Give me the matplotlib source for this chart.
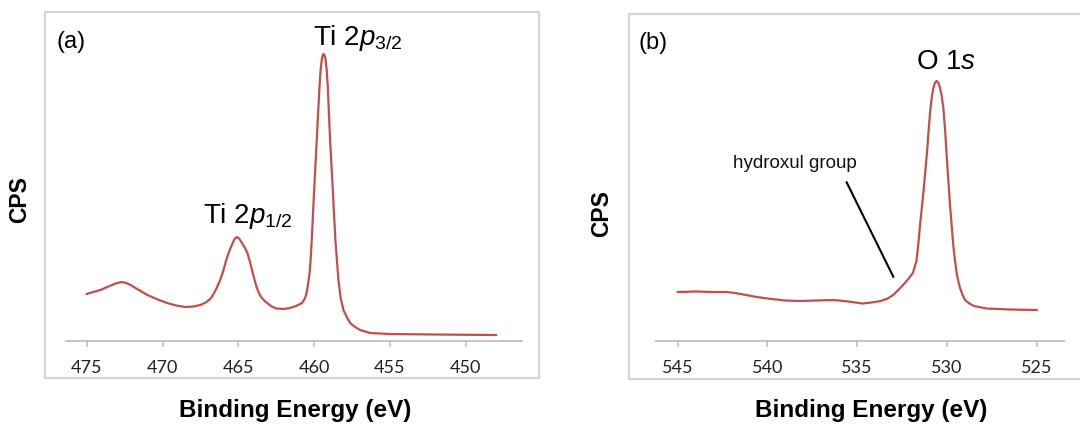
import matplotlib
matplotlib.use("Agg")
import matplotlib.pyplot as plt
from matplotlib.patches import Rectangle
from matplotlib.lines import Line2D

plt.rcParams['mathtext.fontset'] = 'custom'
plt.rcParams['mathtext.rm'] = 'Liberation Sans'
plt.rcParams['mathtext.it'] = 'Liberation Sans:italic'

# ---- data (arbitrary CPS units) ----
ti_energy = [475.0, 474.8, 474.1, 473.5, 473.1, 472.7, 472.4, 472.1, 471.9, 471.0,
             470.4, 469.7, 469.1, 468.5, 468.0, 467.5, 467.1, 466.8, 466.6, 466.4,
             466.2, 466.0, 465.8, 465.6, 465.4, 465.25, 465.1, 464.95, 464.8, 464.6,
             464.4, 464.25, 464.1, 463.95, 463.8, 463.65, 463.5, 463.3, 463.1, 462.8,
             462.5, 462.0, 461.6, 461.2, 460.8, 460.6, 460.5, 460.4, 460.3, 460.23,
             460.16, 460.0, 459.83, 459.66, 459.58, 459.5, 459.45, 459.39, 459.33, 459.26,
             459.18, 459.1, 458.95, 458.77, 458.6, 458.4, 458.25, 458.07, 457.85, 457.63,
             457.3, 456.97, 456.3, 455.0, 452.0, 448.0]
ti_cps = [47, 48, 51, 55, 57.5, 59, 58, 56, 54, 46,
          42, 38, 35.5, 34, 34.5, 36, 39, 43, 48, 54,
          61, 70, 81, 90, 97, 102, 104, 102.5, 99, 94,
          88, 80, 71, 62, 54, 48, 44, 40.5, 38, 34.5,
          32.5, 32, 33, 35, 38, 43, 48, 57, 68, 82,
          101, 151, 201, 251, 270, 281, 285, 287, 286, 283,
          272, 254, 201, 151, 101, 61, 43, 31, 24, 18,
          14, 11, 8, 7, 6.5, 6]

o_energy = [545.0, 544.0, 543.0, 542.3, 541.8, 541.2, 540.6, 540.0, 539.0, 538.2,
            537.3, 536.3, 535.5, 534.7, 534.2, 533.7, 533.3, 533.0, 532.6, 532.2,
            531.9, 531.7, 531.6, 531.5, 531.4, 531.3, 531.2, 531.1, 531.02, 530.94,
            530.85, 530.76, 530.66, 530.57, 530.48, 530.4, 530.3, 530.2, 530.1, 530.0,
            529.83, 529.65, 529.55, 529.46, 529.36, 529.27, 529.13, 529.0, 528.75, 528.5,
            527.8, 526.5, 525.0]
o_cps = [49, 49.5, 49, 49, 48, 46, 44, 42.5, 40.5, 40,
         40.5, 41, 39.5, 37.5, 38.5, 40, 42.5, 46, 53, 61,
         68, 80, 96, 116, 133, 151, 171, 191, 211, 229,
         243, 253, 258.5, 260, 258, 254, 246, 233, 210, 181,
         136, 96, 80, 68, 59, 53, 46, 41, 37.5, 35,
         32.5, 31.5, 31]

ti_ticks = [475, 470, 465, 460, 455, 450]
o_ticks = [545, 540, 535, 530, 525]

W, H = 1080, 428
fig = plt.figure(figsize=(W / 100, H / 100), dpi=100)


def fx(px):
    return px / W


def fy(py):
    return 1 - py / H


line_color = '#c0504d'
frame_color = '#d4d4d4'
axis_color = '#bfbfbf'

# frames
fig.add_artist(Rectangle((fx(45), fy(378)), fx(539) - fx(45), fy(12) - fy(378),
                         transform=fig.transFigure, fill=False, edgecolor=frame_color, lw=1.5))
for (x0, y0, x1, y1) in [(629, 14, 1085, 14), (629, 14, 629, 379), (629, 379, 1085, 379)]:
    fig.add_artist(Line2D([fx(x0), fx(x1)], [fy(y0), fy(y1)], transform=fig.transFigure,
                          color=frame_color, lw=1.5))

axes_bottom = fy(341)
axes_top = fy(20)


def make_ax(xpx0, xpx1, xlim, ticks):
    ax = fig.add_axes([fx(xpx0), axes_bottom, fx(xpx1) - fx(xpx0), axes_top - axes_bottom])
    ax.set_xlim(*xlim)
    ax.set_ylim(0, 321)
    for s in ['top', 'right', 'left']:
        ax.spines[s].set_visible(False)
    ax.spines['bottom'].set_color(axis_color)
    ax.spines['bottom'].set_linewidth(1.3)
    ax.set_yticks([])
    ax.set_xticks(ticks)
    ax.set_xticklabels([str(t) for t in ticks], fontfamily='Lato', fontsize=13, color='#222222')
    ax.tick_params(axis='x', direction='out', length=4.5, width=1.2, color=axis_color, pad=9.5)
    ax.patch.set_alpha(0)
    return ax


ax1 = make_ax(66, 522, (476.37, 446.29), ti_ticks)
ax1.plot(ti_energy, ti_cps, color=line_color, lw=1.6)

ax2 = make_ax(656, 1064, (546.21, 523.48), o_ticks)
ax2.plot(o_energy, o_cps, color=line_color, lw=1.6)

# annotation line for hydroxyl group
ax2.plot([535.59, 532.99], [158.7, 64.3], color='black', lw=1.5)
ax2.text(541.92, 172.7, 'hydroxul group', fontfamily='Liberation Sans', fontsize=13.5,
         ha='left', va='baseline', color='#111111')

# peak labels
fig.text(fx(313), fy(45), r'Ti 2$\mathit{p}_{\mathrm{3/2}}$', fontfamily='Liberation Sans',
         fontsize=20, ha='left', va='baseline')
fig.text(fx(203), fy(223), r'Ti 2$\mathit{p}_{\mathrm{1/2}}$', fontfamily='Liberation Sans',
         fontsize=20, ha='left', va='baseline')
fig.text(fx(916), fy(69), r'O 1$\mathit{s}$', fontfamily='Liberation Sans',
         fontsize=20, ha='left', va='baseline')

# panel letters
fig.text(fx(57), fy(42), '(a)', fontfamily='Liberation Sans', fontsize=17, ha='left', va='center')
fig.text(fx(639), fy(43), '(b)', fontfamily='Liberation Sans', fontsize=17, ha='left', va='center')

# axis titles
for xc in (295, 871):
    fig.text(fx(xc), fy(410), 'Binding Energy (eV)', fontfamily='Liberation Sans',
             fontweight='bold', fontsize=17.5, ha='center', va='center')
fig.text(fx(20), fy(200), 'CPS', fontfamily='Liberation Sans', fontweight='bold',
         fontsize=16.5, rotation=90, ha='center', va='center')
fig.text(fx(602), fy(214), 'CPS', fontfamily='Liberation Sans', fontweight='bold',
         fontsize=16.5, rotation=90, ha='center', va='center')

fig.savefig('out.png', dpi=100)
